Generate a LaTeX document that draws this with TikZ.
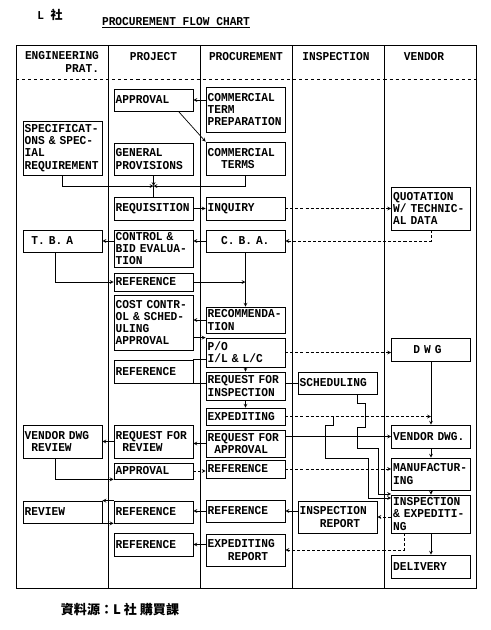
\documentclass[tikz,border=0pt]{standalone}
\usepackage{fontspec}
\setmonofont[FakeStretch=0.93]{Liberation Mono}
\newfontfamily\cjk{Noto Sans CJK TC}
\usetikzlibrary{calc}

\begin{document}
\begin{tikzpicture}[>=stealth, x=0.035cm, y=-0.035cm, line width=0.7pt,
  font=\ttfamily\bfseries\fontsize{12}{12.2}\selectfont,
  box/.style={draw, rectangle, minimum width=2.77cm, minimum height=#1*0.035cm, text width=2.65cm, inner xsep=0.06cm, inner ysep=1pt, align=left},
  dashlink/.style={->, densely dashed}]
  \useasboundingbox (0,0) rectangle (490,630);

  % titles
  \node (firm) at (50,15) {L {\cjk 社}};
  \node (title) at (176,23) {\underline{PROCUREMENT FLOW CHART}};
  \node (source) at (120,610) {\cjk\fontsize{13}{14}\selectfont 資料源：L 社 購買課};

  % frame and lanes
  \draw (16,45) rectangle (476,588);
  \foreach \x in {108,200,292,384}
    \draw (\x,45) -- (\x,588);
  \draw[dashed] (16,79) -- (476,79);
  \node[align=right] (hEng) at (62,62) {ENGINEERING\\PRAT.};
  \node (hProj) at (153.5,57) {PROJECT};
  \node (hProc) at (246,57) {PROCUREMENT};
  \node (hInsp) at (336,57) {INSPECTION};
  \node (hVend) at (424,57) {VENDOR};

  % engineering
  \node[box=54] (spec) at (62.5,148) {SPECIFICAT-\\ONS \& SPEC-\\IAL\\REQUIREMENT};
  \node[box=22] (tba) at (62.5,241) {\phantom{X}T. B. A};
  \node[box=33] (vdwgrev) at (62.5,441.5) {VENDOR DWG\\\phantom{X}REVIEW};
  \node[box=22] (review) at (62.5,512) {REVIEW};

  % project
  \node[box=22] (pappr) at (153.5,100) {APPROVAL};
  \node[box=32] (genprov) at (153.5,159) {GENERAL\\PROVISIONS};
  \node[box=23] (requis) at (153.5,208.5) {REQUISITION};
  \node[box=37] (control) at (153.5,248.5) {CONTROL \&\\BID EVALUA-\\TION};
  \node[box=18] (pref1) at (153.5,282) {REFERENCE};
  \node[box=55] (costctl) at (153.5,322.5) {COST CONTR-\\OL \& SCHED-\\ULING\\APPROVAL};
  \node[box=23] (pref2) at (153.5,371.5) {REFERENCE};
  \node[box=33] (reqrev) at (153.5,441.5) {REQUEST FOR\\\phantom{X}REVIEW};
  \node[box=16] (pappr2) at (153.5,471) {APPROVAL};
  \node[box=22] (pref3) at (153.5,512) {REFERENCE};
  \node[box=23] (pref4) at (153.5,544.5) {REFERENCE};

  % procurement
  \node[box=45] (ctprep) at (245.5,109.5) {COMMERCIAL\\TERM\\PREPARATION};
  \node[box=33] (cterms) at (245.5,158.5) {COMMERCIAL\\\phantom{XX}TERMS};
  \node[box=23] (inquiry) at (245.5,208.5) {INQUIRY};
  \node[box=22] (cba) at (245.5,241) {\phantom{XX}C. B. A.};
  \node[box=26] (recomm) at (245.5,320) {RECOMMENDA-\\TION};
  \node[box=29] (po) at (245.5,352.5) {P/O\\I/L \& L/C};
  \node[box=28] (reqinsp) at (245.5,386) {REQUEST FOR\\INSPECTION};
  \node[box=17] (expd) at (245.5,416.5) {EXPEDITING};
  \node[box=27] (reqappr) at (245.5,443.5) {REQUEST FOR\\\phantom{X}APPROVAL};
  \node[box=18] (cref1) at (245.5,469) {REFERENCE};
  \node[box=22] (cref2) at (245.5,511) {REFERENCE};
  \node[box=32] (expdrep) at (245.5,550) {EXPEDITING\\\phantom{XXX}REPORT};

  % inspection
  \node[box=22] (sched) at (337.5,383) {SCHEDULING};
  \node[box=32] (insprep) at (337.5,517) {INSPECTION\\\phantom{XXX}REPORT};

  % vendor
  \node[box=43] (quot) at (431,208.5) {QUOTATION\\W/ TECHNIC-\\AL DATA};
  \node[box=23] (dwg) at (431,349.5) {\phantom{XXX}D W G};
  \node[box=23] (vdwg) at (431,436.5) {VENDOR DWG.};
  \node[box=32] (manuf) at (431,474) {MANUFACTUR-\\ING};
  \node[box=38] (inspexp) at (431,514) {INSPECTION\\\& EXPEDITI-\\NG};
  \node[box=23] (delivery) at (431,566.5) {DELIVERY};

  % connectors
  \coordinate (jn) at (153.5,186);
  \draw[->] (ctprep.west |- pappr.east) -- (pappr.east);
  \draw[->] ($(pappr.south east)+(-15,0)$) -- (cterms.north west);
  \draw[->] (spec.south) |- (jn);
  \draw[->] (cterms.south) |- (jn);
  \draw[->] (genprov.south) -- (jn);
  \draw (jn) -- (requis.north);
  \draw[->] (requis) -- (inquiry);
  \draw[dashlink] (inquiry) -- (quot);
  \draw[dashlink] (quot.south) |- (cba.east);
  \draw[->] (cba.west) -- (cba.west -| control.east);
  \draw[->] (control.west |- tba.east) -- (tba.east);
  \draw[->] ($(tba.south)+(-7,0)$) |- (pref1.west);
  \draw[->] (cba.south) -- (recomm.north);
  \draw[->] (pref1.east) -- (pref1.east -| cba.south);
  \draw[->] (recomm.west) -- (recomm.west -| costctl.east);
  \draw[->] (costctl.east |- po.north) -- (po.north west);
  \draw (pref2.north east) -- (pref2.north east -| po.west);
  \draw (pref2.south east) -- (pref2.south east -| reqinsp.west);
  \draw[->] (po) -- (reqinsp);
  \draw[dashlink] (po.east) -- (po.east -| dwg.west);
  \draw (reqinsp.east |- sched.west) -- (sched.west);
  \draw[->] (reqinsp) -- (expd);
  \draw[->] (dwg) -- (vdwg);
  \draw[dashlink] (expd.east) -- (expd.east -| dwg.south);
  \draw[->] (reqappr.east |- vdwg.west) -- (vdwg.west);
  \draw[->] (reqappr.west) -- (reqappr.west -| reqrev.east);
  \draw[->] (reqrev.west) -- (reqrev.west -| vdwgrev.east);
  \draw[->] ($(vdwgrev.south)+(-7,0)$) |- (pappr2.south west);
  \draw[dashlink] (pappr2.east) -- (pappr2.east -| cref1.west);
  \draw[dashlink] (cref1.east) -- (cref1.east -| manuf.west);
  \draw[->] (vdwg) -- (manuf);
  \draw[->] (manuf) -- (inspexp);
  \draw[->] (inspexp) -- (delivery);
  \draw[dashlink] (inspexp.west |- insprep.east) -- (insprep.east);
  \draw[->] (insprep.west |- cref2.east) -- (cref2.east);
  \draw[->] (cref2.west) -- (cref2.west -| pref3.east);
  \draw[->] (pref3.north west) -- (review.north east);
  \draw[->] (review.south east) -- (pref3.south west);
  \draw[dashlink] ($(inspexp.south)+(-27,0)$) |- (expdrep.east);
  \draw[->] (expdrep.west |- pref4.east) -- (pref4.east);
  \draw[->] ($(expd.east)+(48,0)$) |- (325,425) |- (368,458) |- ($(inspexp.west)+(0,-16)$);
  \draw[->] ($(sched.south)+(20,0)$) |- (365,403) |- (357,427) |- (378,448) |- ($(inspexp.west)+(0,-20)$);
\end{tikzpicture}
\end{document}
